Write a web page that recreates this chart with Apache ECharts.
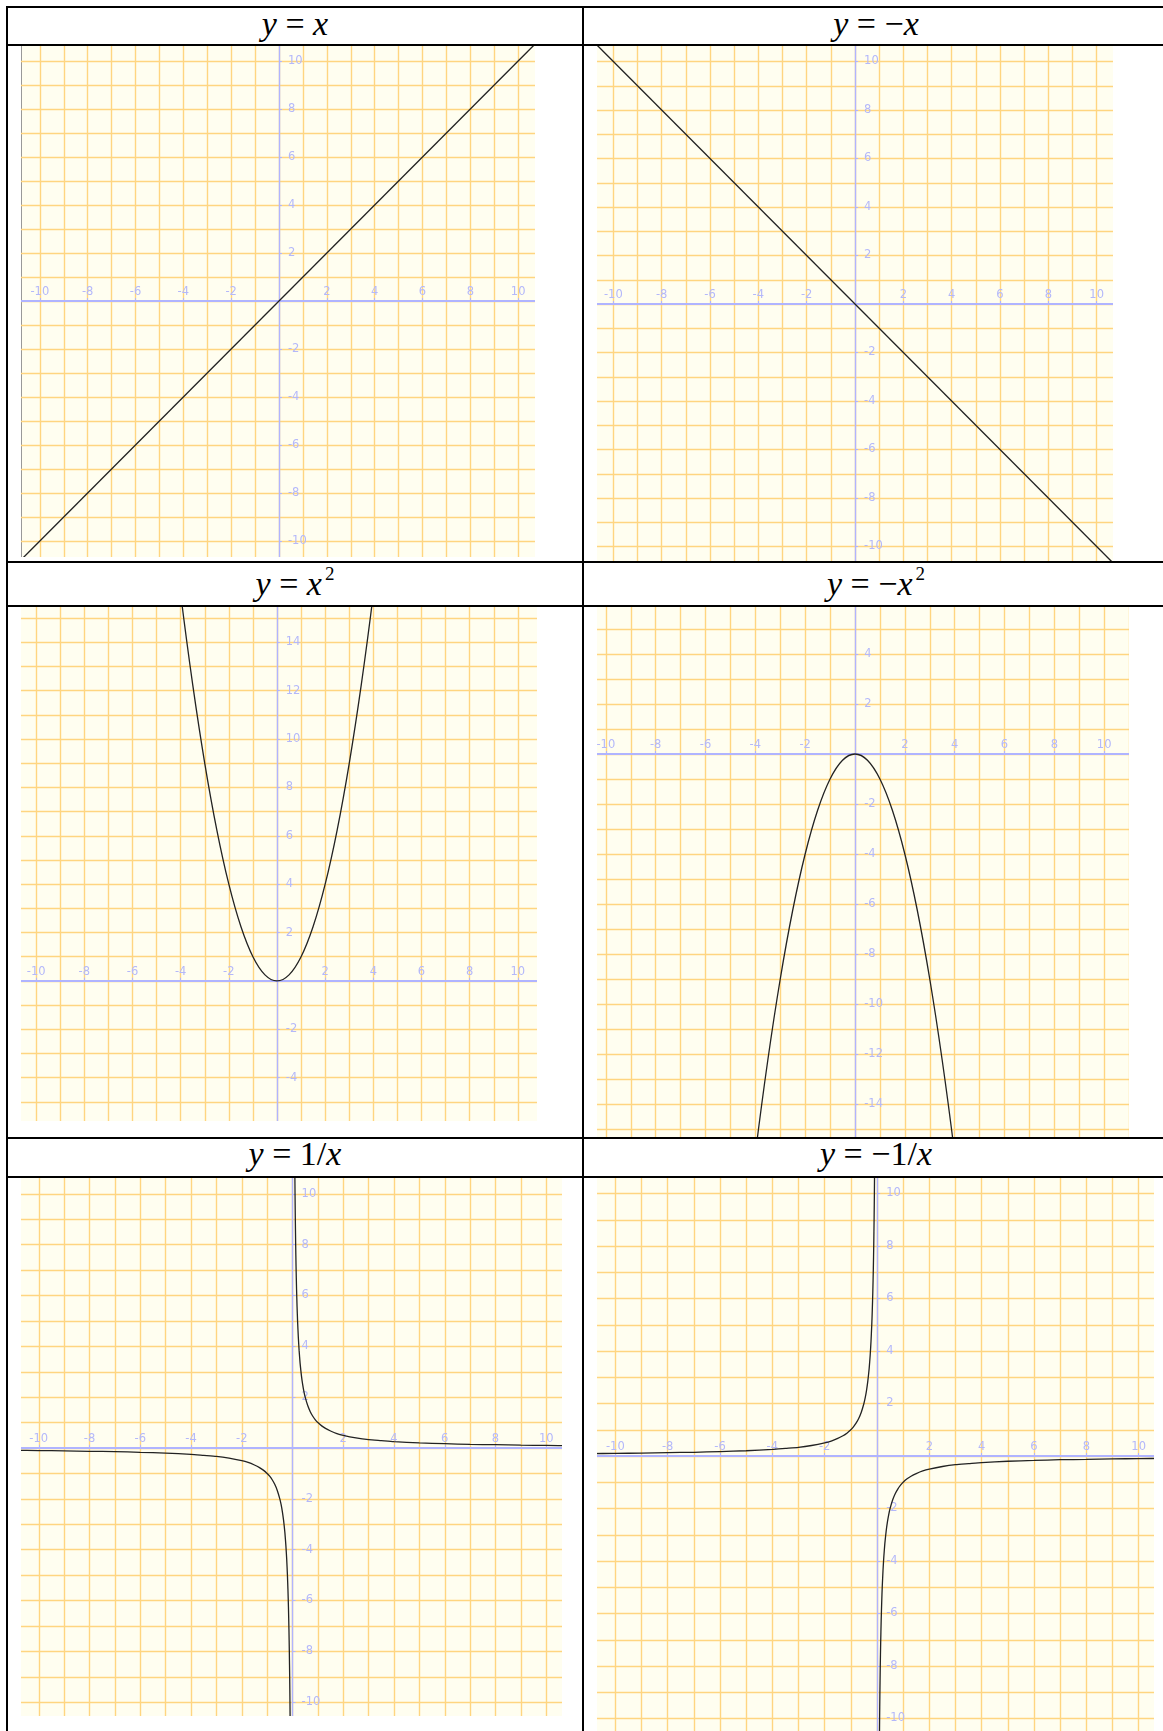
<!DOCTYPE html>
<html>
<head>
<meta charset="utf-8">
<title>函数图像</title>
<script src="https://cdn.jsdelivr.net/npm/echarts/dist/echarts.min.js"></script>
<style>
  html, body { margin: 0; padding: 0; background: #fff; overflow: hidden; }
  body { width: 1163px; height: 1731px; position: relative; }
  .ln { position: absolute; background: #000; }
  .head { position: absolute; text-align: center; font-family: "Liberation Serif", "Times New Roman", serif;
          font-size: 34px; line-height: 37px; color: #000; white-space: nowrap; }
  .head i { font-style: italic; }
  .head sup { font-size: 19px; position: relative; top: -15px; vertical-align: baseline; margin-left: 3px; }
  .box { position: absolute; overflow: hidden; background: #fffef0; }
  .chart { position: absolute; }
</style>
</head>
<body>
<!-- 表格线 -->
<div class="ln" style="left:6px;top:6px;width:1170px;height:2px"></div>
<div class="ln" style="left:6px;top:6px;width:2px;height:1731px"></div>
<div class="ln" style="left:582px;top:6px;width:2px;height:1731px"></div>
<div class="ln" style="left:6px;top:44px;width:1170px;height:2px"></div>
<div class="ln" style="left:6px;top:561px;width:1170px;height:2px"></div>
<div class="ln" style="left:6px;top:605px;width:1170px;height:2px"></div>
<div class="ln" style="left:6px;top:1137px;width:1170px;height:2px"></div>
<div class="ln" style="left:6px;top:1176px;width:1170px;height:2px"></div>

<!-- 表头 -->
<div class="head" style="left:8px;width:574px;top:5px"><i>y</i> = <i>x</i></div>
<div class="head" style="left:584px;width:584px;top:5px"><i>y</i> = −<i>x</i></div>
<div class="head" style="left:8px;width:574px;top:565px"><i>y</i> = <i>x</i><sup>2</sup></div>
<div class="head" style="left:584px;width:584px;top:565px"><i>y</i> = −<i>x</i><sup>2</sup></div>
<div class="head" style="left:8px;width:574px;top:1135px"><i>y</i> = 1/<i>x</i></div>
<div class="head" style="left:584px;width:584px;top:1135px"><i>y</i> = −1/<i>x</i></div>

<script>
// 数据
// y = x
const lineX = [-11, 11];
const lineY = [-11, 11];
// y = -x
const negLineX = [-11, 11];
const negLineY = [11, -11];
// y = x^2
const parX = [-4.5, -4, -3.5, -3, -2.5, -2, -1.5, -1, -0.5, 0, 0.5, 1, 1.5, 2, 2.5, 3, 3.5, 4, 4.5];
const parY = [20.25, 16, 12.25, 9, 6.25, 4, 2.25, 1, 0.25, 0, 0.25, 1, 2.25, 4, 6.25, 9, 12.25, 16, 20.25];
// y = -x^2
const negParY = [-20.25, -16, -12.25, -9, -6.25, -4, -2.25, -1, -0.25, 0, -0.25, -1, -2.25, -4, -6.25, -9, -12.25, -16, -20.25];
// 双曲线 (x > 0 与 x < 0 两支)
const hypPosX = [0.085, 0.1, 0.11, 0.125, 0.14, 0.16, 0.18, 0.2, 0.23, 0.26, 0.3, 0.35, 0.4, 0.45, 0.5, 0.6, 0.7, 0.8, 0.9, 1,
                 1.15, 1.3, 1.5, 1.75, 2, 2.5, 3, 3.5, 4, 5, 6, 7, 8, 9, 10, 11];
const hypNegX = [-0.085, -0.1, -0.11, -0.125, -0.14, -0.16, -0.18, -0.2, -0.23, -0.26, -0.3, -0.35, -0.4, -0.45, -0.5, -0.6, -0.7, -0.8, -0.9, -1,
                 -1.15, -1.3, -1.5, -1.75, -2, -2.5, -3, -3.5, -4, -5, -6, -7, -8, -9, -10, -11];
const hypPosY = [11.76, 10, 9.09, 8, 7.14, 6.25, 5.56, 5, 4.35, 3.85, 3.33, 2.86, 2.5, 2.22, 2, 1.67, 1.43, 1.25, 1.11, 1,
                 0.87, 0.77, 0.67, 0.57, 0.5, 0.4, 0.33, 0.29, 0.25, 0.2, 0.17, 0.14, 0.13, 0.11, 0.1, 0.09];
const hypNegY = [-11.76, -10, -9.09, -8, -7.14, -6.25, -5.56, -5, -4.35, -3.85, -3.33, -2.86, -2.5, -2.22, -2, -1.67, -1.43, -1.25, -1.11, -1,
                 -0.87, -0.77, -0.67, -0.57, -0.5, -0.4, -0.33, -0.29, -0.25, -0.2, -0.17, -0.14, -0.13, -0.11, -0.1, -0.09];
// 刻度标签显示范围
const xLabelRange = [-10, 10];

// 样式
const gridColor = '#ffd580';
const axisColor = '#b0b4ff';
const labelColor = '#b4b8fa';
const curveColor = '#222';

// 每个图的位置: box=[left, top, width, height], 原点像素与每单位像素
const panels = [
  { box: [21, 46, 514, 511], x0: 279.2, sx: 23.92, y0: 301.3, sy: 24.0, yMin: -12, yMax: 12, yLab: [-10, 10], edge: true,
    curves: [[lineX, lineY, 0]] },
  { box: [597, 46, 516, 515], x0: 855.1, sx: 24.16, y0: 304.3, sy: 24.25, yMin: -12, yMax: 12, yLab: [-10, 10],
    curves: [[negLineX, negLineY, 0]] },
  { box: [21, 607, 516, 514], x0: 276.7, sx: 24.1, y0: 980.3, sy: 24.17, yMin: -6, yMax: 16, yLab: [-4, 14],
    curves: [[parX, parY, 0.4]] },
  { box: [597, 607, 532, 530], x0: 855, sx: 24.9, y0: 754.3, sy: 25.0, yMin: -16, yMax: 6, yLab: [-14, 4],
    curves: [[parX, negParY, 0.4]] },
  { box: [21, 1178, 541, 538], x0: 292, sx: 25.37, y0: 1447.5, sy: 25.4, yMin: -12, yMax: 12, yLab: [-10, 10],
    curves: [[hypPosX, hypPosY, 0.2], [hypNegX, hypNegY, 0.2]] },
  { box: [597, 1178, 557, 553], x0: 876.3, sx: 26.15, y0: 1455.8, sy: 26.25, yMin: -12, yMax: 12, yLab: [-10, 10],
    curves: [[hypNegX, hypPosY, 0.2], [hypPosX, hypNegY, 0.2]] }
];

function inRange(v, r) {
  return v !== 0 && v >= r[0] && v <= r[1];
}

panels.forEach(function (p) {
  // 米黄色底的裁剪框
  const box = document.createElement('div');
  box.className = 'box';
  box.style.left = p.box[0] + 'px';
  box.style.top = p.box[1] + 'px';
  box.style.width = p.box[2] + 'px';
  box.style.height = p.box[3] + 'px';
  if (p.edge) box.style.boxShadow = 'inset 1px 0 0 #999';
  document.body.appendChild(box);

  // 图表本身比框大，坐标范围取整
  const el = document.createElement('div');
  el.className = 'chart';
  el.style.left = (p.x0 - 12 * p.sx - p.box[0]) + 'px';
  el.style.top = (p.y0 - p.yMax * p.sy - p.box[1]) + 'px';
  el.style.width = (24 * p.sx) + 'px';
  el.style.height = ((p.yMax - p.yMin) * p.sy) + 'px';
  box.appendChild(el);

  const myChart = echarts.init(el);
  const gridLine = { show: true, lineStyle: { color: gridColor, width: 1.4 } };
  const option = {
    animation: false,
    grid: { left: 0, right: 0, top: 0, bottom: 0, containLabel: false, outerBoundsMode: 'none' },
    xAxis: [
      // 只画网格
      {
        type: 'value', min: -12, max: 12, interval: 2, position: 'bottom',
        axisLine: { show: false, onZero: false }, axisTick: { show: false }, axisLabel: { show: false },
        splitLine: gridLine,
        minorTick: { show: false, splitNumber: 2 },
        minorSplitLine: gridLine
      },
      // 坐标轴线和刻度，用 offset 移到 y = 0
      {
        type: 'value', min: -12, max: 12, interval: 2, position: 'top', z: 1,
        offset: -(p.yMax * p.sy),
        axisLine: { show: true, onZero: false, lineStyle: { color: axisColor, width: 2 } },
        axisTick: { show: true, length: 3, lineStyle: { color: axisColor } },
        axisLabel: {
          margin: 3, color: labelColor, fontSize: 11.5, fontFamily: 'DejaVu Sans',
          formatter: function (v) { return inRange(v, xLabelRange) ? String(v) : ''; }
        },
        splitLine: { show: false }
      }
    ],
    yAxis: [
      {
        type: 'value', min: p.yMin, max: p.yMax, interval: 2, position: 'left',
        axisLine: { show: false, onZero: false }, axisTick: { show: false }, axisLabel: { show: false },
        splitLine: gridLine,
        minorTick: { show: false, splitNumber: 2 },
        minorSplitLine: gridLine
      },
      // 用 offset 移到 x = 0
      {
        type: 'value', min: p.yMin, max: p.yMax, interval: 2, position: 'right', z: 1,
        offset: -(12 * p.sx),
        axisLine: { show: true, onZero: false, lineStyle: { color: axisColor, width: 1.4 } },
        axisTick: { show: true, length: 3, lineStyle: { color: axisColor } },
        axisLabel: {
          margin: 9, color: labelColor, fontSize: 11.5, fontFamily: 'DejaVu Sans',
          formatter: function (v) { return inRange(v, p.yLab) ? String(v) : ''; }
        },
        splitLine: { show: false }
      }
    ],
    series: p.curves.map(function (c) {
      return {
        type: 'line',
        xAxisIndex: 0,
        yAxisIndex: 0,
        showSymbol: false,
        smooth: c[2] || false,
        lineStyle: { color: curveColor, width: 1.3 },
        data: c[0].map(function (x, i) { return [x, c[1][i]]; })
      };
    })
  };
  myChart.setOption(option);
});
</script>
</body>
</html>
